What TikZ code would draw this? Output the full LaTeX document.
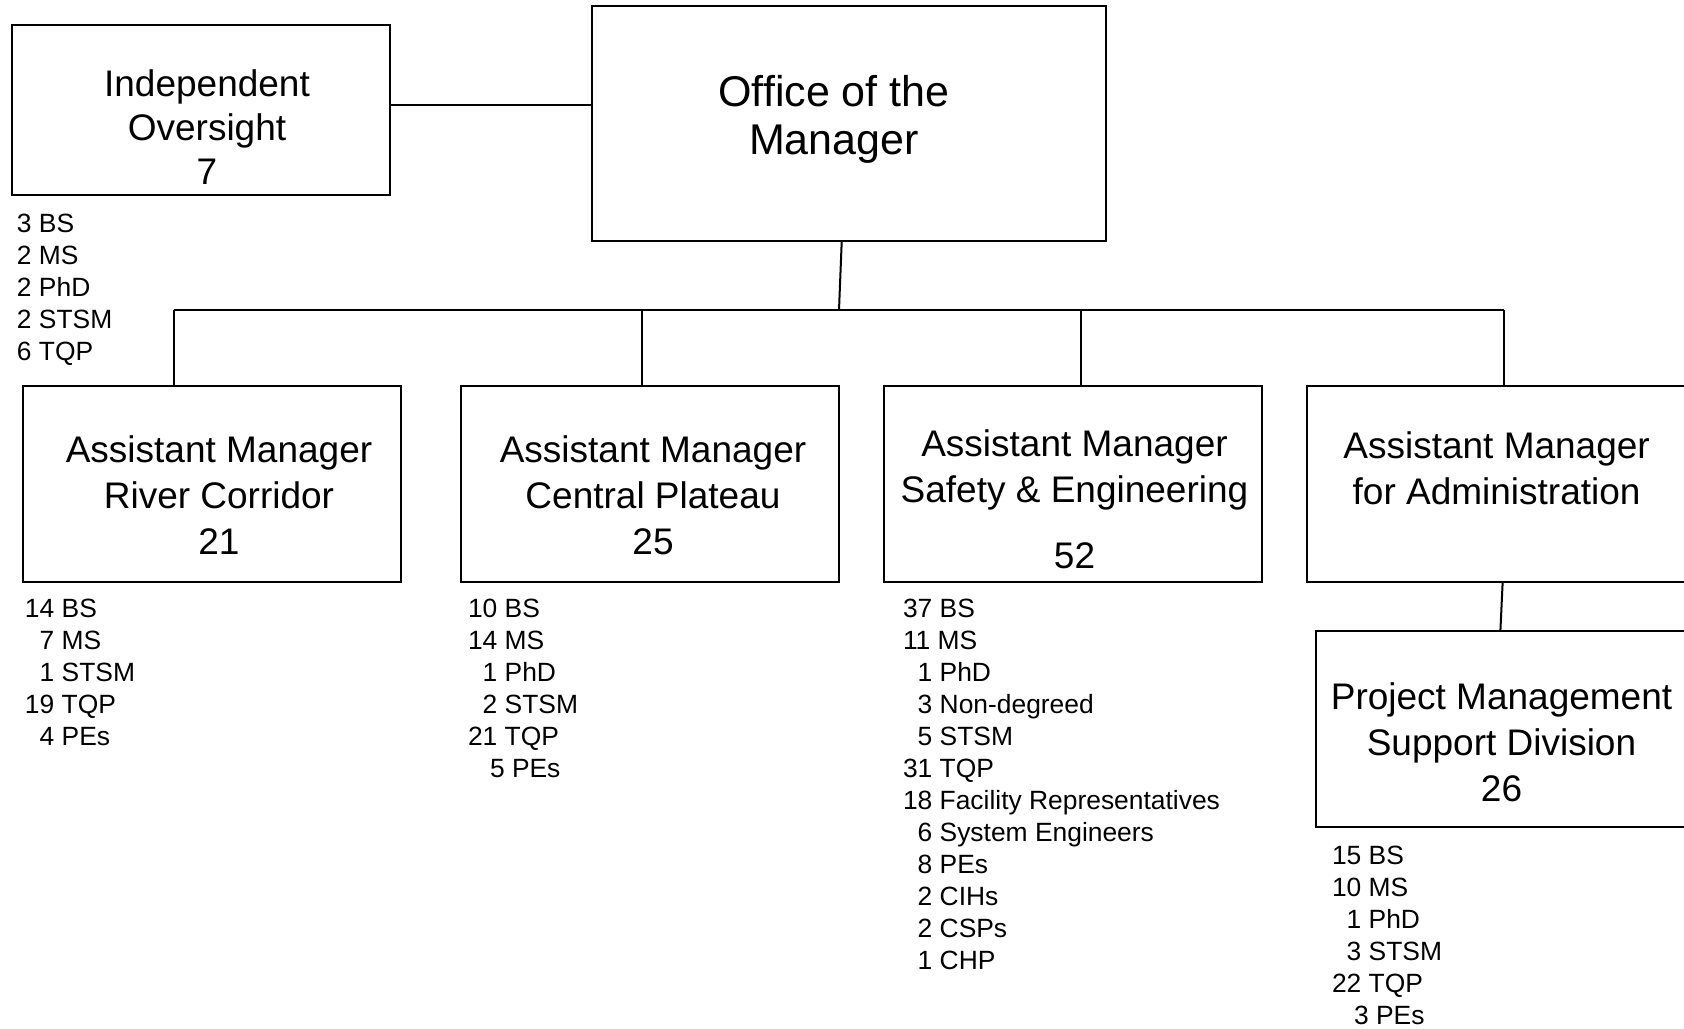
\documentclass[tikz,border=0pt]{standalone}
\usepackage{fontspec}
\setmainfont{Liberation Sans}
\usepackage{tikz}

\newcommand{\numpad}{\hphantom{0}}
\newcommand{\numpadx}{\hphantom{0}\hspace{0.278em}}

\begin{document}
\begin{tikzpicture}[x = 0.5pt, y = -0.5pt, line width = 1pt,
		box/.style = {draw, line width = 1pt, minimum width = 189pt, minimum height = 98pt, inner sep = 0pt},
		title/.style = {align = center, inner sep = 0pt, font = \fontsize{18.5}{23}\selectfont},
		stats/.style = {align = left, anchor = north west, inner sep = 0pt, font = \fontsize{13.2}{16}\selectfont}]
				\useasboundingbox (0,0) rectangle (1684,1028);
				% boxes
				\node [box, minimum height = 85.4pt] (io) at (201,110) {};
				\node [box, minimum width = 257.2pt, minimum height = 117.1pt] (om) at (849,123.5) {};
				\node [box] (rc) at (211.6,484) {};
				\node [box] (cp) at (649.8,484) {};
				\node [box] (se) at (1073,484) {};
				\node [box] (adm) at (1496,484) {};
				\node [box] (pm) at (1504.6,729.3) {};
				% titles
				\node [title, font = \fontsize{18.5}{22}\selectfont] (io-t) at (207,127) {Independent\\Oversight\\7};
				\node [title, font = \fontsize{21.5}{24}\selectfont] (om-t) at (834,119.5) {Office of the\\Manager};
				\node [title] (rc-t) at (219,495) {Assistant Manager\\River Corridor\\21};
				\node [title] (cp-t) at (653,495) {Assistant Manager\\Central Plateau\\25};
				\node [title] (se-t) at (1074.5,499.4) {Assistant Manager\\Safety \& Engineering\\[10pt]52};
				\node [title] (adm-t) at (1496.6,468.3) {Assistant Manager\\for Administration};
				\node [title] (pm-t) at (1501.5,742) {Project Management\\Support Division\\26};
				% staff counts
				\node [stats] (io-s) at (16,213.5) {3 BS\\2 MS\\2 PhD\\2 STSM\\6 TQP};
				\node [stats] (rc-s) at (24,598) {14 BS\\\numpad 7 MS\\\numpad 1 STSM\\19 TQP\\\numpad 4 PEs};
				\node [stats] (cp-s) at (467,598) {10 BS\\14 MS\\\numpad 1 PhD\\\numpad 2 STSM\\21 TQP\\\numpadx 5 PEs};
				\node [stats] (se-s) at (902,598) {37 BS\\11 MS\\\numpad 1 PhD\\\numpad 3 Non-degreed\\\numpad 5 STSM\\31 TQP\\18 Facility Representatives\\\numpad 6 System Engineers\\\numpad 8 PEs\\\numpad 2 CIHs\\\numpad 2 CSPs\\\numpad 1 CHP};
				\node [stats] (pm-s) at (1331,845) {15 BS\\10 MS\\\numpad 1 PhD\\\numpad 3 STSM\\22 TQP\\\numpadx 3 PEs};
				% lines
				\draw ([yshift = 2.5pt]io.east) -- ([yshift = 2.5pt]io.east -| om.west);
				\coordinate (bus) at (839,310);
				\draw ([xshift = -3.65pt]om.south) -- (bus);
				\foreach \x/\n in {173.5/rc, 642/cp, 1080.5/se, 1504/adm}{
					\coordinate (b-\n) at (\x,310);
					\draw (b-\n) -- (b-\n |- \n.north);
				}
				\draw (b-rc) -- (b-adm);
				\draw ([xshift = 3.3pt]adm.south) -- ([xshift = -2.1pt]pm.north);
		\end{tikzpicture}
\end{document}
